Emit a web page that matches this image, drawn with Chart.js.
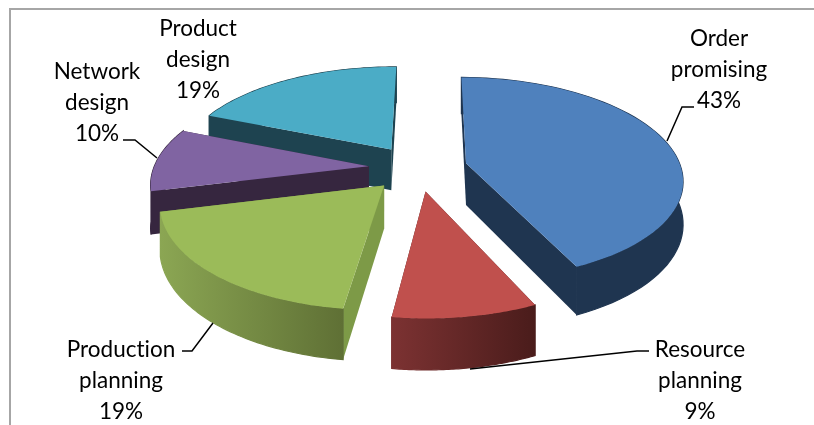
<!DOCTYPE html>
<html>
<head>
<meta charset="utf-8">
<style>
  html, body { margin: 0; padding: 0; background: #fff; }
  canvas { display: block; }
</style>
<script src="https://cdn.jsdelivr.net/npm/chart.js@4"></script>
</head>
<body>
<canvas id="planningPie" width="814" height="425"></canvas>
<script>
// Data
const categories = ["Order promising", "Resource planning", "Production planning", "Network design", "Product design"];
const shares = [43, 9, 19, 10, 19];

// Slice colours: top face, then outer wall (left, right) and the cut wall
const topColors = ["#4f81bd", "#c0504d", "#9bbb59", "#8064a2", "#4bacc6"];
const wallLeft = ["#1f3550", "#7c3232", "#8ba653", "#36263f", "#1e4350"];
const wallRight = ["#1f3550", "#4a1c1b", "#5f7035", "#36263f", "#1e4350"];
const cutColors = ["#1f3550", "#4a1c1b", "#7d9a47", "#36263f", "#1e4350"];

// Label placement, same order as categories: [centre x, first line y]
const labelSpots = [[719, 39], [700, 350], [121, 350], [97, 72], [198, 29]];
const leaders = [
  [[667, 141], [682, 107], [694, 107]],
  [[649, 351], [637, 351], [470, 369]],
  [[182, 351], [192, 351], [213, 323]],
  [[123, 140], [135, 140], [157, 158]],
  []
];

// Fake 3D view of the pie plane
const view = { cx: 418, cy: 168, scaleX: 215, scaleY: 100, persp: 0.15, depth: 42, explode: 0.23 };

function project(x, y, z) {
  const s = 1 / (1 - view.persp * y);
  return [view.cx + view.scaleX * x * s, view.cy + view.scaleY * y * s + z * view.depth * s];
}

function tracePath(ctx, pts) {
  ctx.beginPath();
  pts.forEach((p, i) => i ? ctx.lineTo(p[0], p[1]) : ctx.moveTo(p[0], p[1]));
  ctx.closePath();
}

function drawSlice(ctx, arc, i) {
  const mid = (arc.startAngle + arc.endAngle) / 2;
  const ox = Math.cos(mid) * view.explode;
  const oy = Math.sin(mid) * view.explode;
  const rim = [];
  const steps = 60;
  for (let k = 0; k <= steps; k++) {
    const a = arc.startAngle + (arc.endAngle - arc.startAngle) * k / steps;
    rim.push([ox + Math.cos(a), oy + Math.sin(a)]);
  }
  const top = rim.map(p => project(p[0], p[1], 0));
  const low = rim.map(p => project(p[0], p[1], 1));
  const apexTop = project(ox, oy, 0);
  const apexLow = project(ox, oy, 1);

  // cut walls first, the outer wall and top cover whatever faces away
  ctx.fillStyle = cutColors[i];
  tracePath(ctx, [apexTop, top[steps], low[steps], apexLow]);
  ctx.fill();
  tracePath(ctx, [apexTop, top[0], low[0], apexLow]);
  ctx.fill();

  const xs = top.map(p => p[0]);
  const grad = ctx.createLinearGradient(Math.min(...xs), 0, Math.max(...xs), 0);
  grad.addColorStop(0, wallLeft[i]);
  grad.addColorStop(1, wallRight[i]);
  ctx.fillStyle = grad;
  ctx.strokeStyle = grad;
  ctx.lineWidth = 1.2; // hides the hairline seam against the cut wall
  tracePath(ctx, top.concat(low.slice().reverse()));
  ctx.fill();
  ctx.stroke();

  ctx.fillStyle = topColors[i];
  tracePath(ctx, [apexTop].concat(top));
  ctx.fill();
}

const pie3d = {
  id: "pie3d",
  beforeDatasetsDraw(chart) {
    const ctx = chart.ctx;
    const arcs = chart.getDatasetMeta(0).data;
    const order = arcs.map((a, i) => i).sort((a, b) =>
      Math.sin((arcs[a].startAngle + arcs[a].endAngle) / 2) - Math.sin((arcs[b].startAngle + arcs[b].endAngle) / 2));
    ctx.save();
    order.forEach(i => drawSlice(ctx, arcs[i], i));
    ctx.restore();
    return false;
  },
  afterDraw(chart) {
    const ctx = chart.ctx;
    ctx.save();
    // chart area frame: only left and top show in the crop
    ctx.strokeStyle = "#a6a6a6";
    ctx.lineWidth = 2;
    ctx.beginPath();
    ctx.moveTo(10, 425);
    ctx.lineTo(10, 9);
    ctx.lineTo(814, 9);
    ctx.stroke();

    ctx.strokeStyle = "#000";
    ctx.lineWidth = 1.5;
    leaders.forEach(line => {
      ctx.beginPath();
      line.forEach((p, k) => k ? ctx.lineTo(p[0], p[1]) : ctx.moveTo(p[0], p[1]));
      ctx.stroke();
    });

    ctx.fillStyle = "#000";
    ctx.font = '22.5px Lato, "Open Sans", sans-serif';
    ctx.textRendering = "optimizeSpeed";
    ctx.textAlign = "center";
    ctx.textBaseline = "middle";
    categories.forEach((name, i) => {
      const lines = name.split(" ").concat(shares[i] + "%");
      lines.forEach((t, k) => ctx.fillText(t, labelSpots[i][0], labelSpots[i][1] + k * 31));
    });
    ctx.restore();
  }
};

new Chart(document.getElementById("planningPie"), {
  type: "pie",
  data: {
    labels: categories,
    datasets: [{ data: shares, backgroundColor: topColors }]
  },
  options: {
    responsive: false,
    animation: false,
    rotation: 0.5,
    plugins: { legend: { display: false }, tooltip: { enabled: false } }
  },
  plugins: [pie3d]
});
</script>
</body>
</html>
